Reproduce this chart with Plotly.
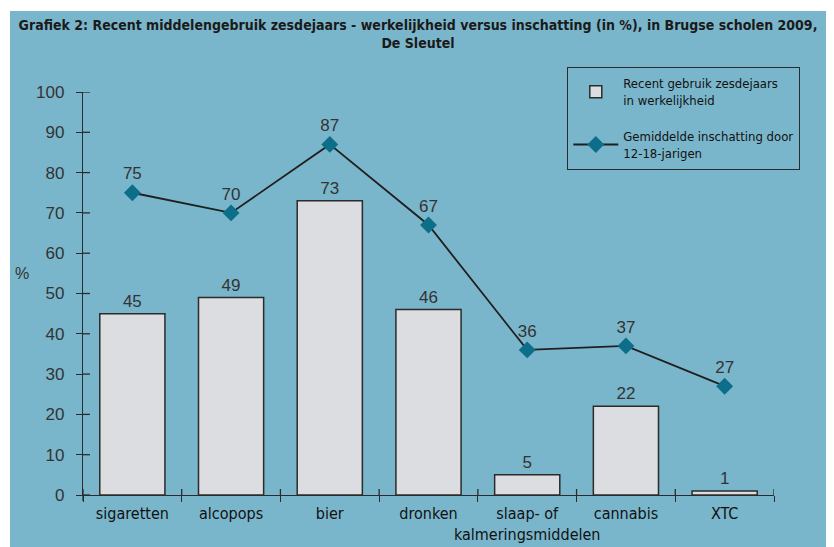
import plotly.graph_objects as go

categories = ["sigaretten", "alcopops", "bier", "dronken", "slaap- of<br>kalmeringsmiddelen", "cannabis", "XTC"]
actual_use = [45, 49, 73, 46, 5, 22, 1]
estimated = [75, 70, 87, 67, 36, 37, 27]
y_ticks = [0, 10, 20, 30, 40, 50, 60, 70, 80, 90, 100]

BG = "#7AB6CB"
DARK = "#2b2b2b"
NARROW = "DejaVu Sans Condensed, Liberation Sans Narrow, sans-serif"
REG = "Liberation Sans, Arial, sans-serif"

# page has an 8px body margin; figure sized to fill the rest of the window
W, H = 826, 539
ML, MR, MT, MB = 75, 60, 84, 52
pw = W - ML - MR
ph = H - MT - MB

fig = go.Figure()
fig.add_trace(go.Bar(
    x=categories, y=actual_use,
    name="Recent gebruik zesdejaars<br>in werkelijkheid", legendgroup="a",
    marker=dict(color="#DCDDE0", line=dict(color=DARK, width=1.5)),
    text=[str(v) for v in actual_use], textposition="outside",
    textfont=dict(family=REG, size=17, color="#333333"),
    cliponaxis=False,
))
fig.add_trace(go.Scatter(
    x=categories, y=estimated, mode="lines+markers+text",
    name="Gemiddelde inschatting door<br>12-18-jarigen", legendgroup="b",
    line=dict(color="#1f1f1f", width=1.8),
    marker=dict(symbol="diamond", size=13, color="#0C6E88"),
    text=[str(v) for v in estimated], textposition="top center",
    textfont=dict(family=REG, size=17, color="#333333"),
    cliponaxis=False,
))

shapes = []
shapes.append(dict(type="rect", xref="paper", yref="paper", layer="below",
                   x0=(2 - ML) / pw, x1=(W - ML + 5) / pw,
                   y0=-(MB + 5) / ph, y1=1 + (MT - 3) / ph,
                   fillcolor=BG, line=dict(width=0)))
for t in y_ticks:
    shapes.append(dict(type="line", xref="x domain", yref="y",
                       x0=0, x1=7 / pw, y0=t, y1=t,
                       line=dict(color=DARK, width=1.3)))
for i in range(len(categories) + 1):
    shapes.append(dict(type="line", xref="x", yref="y domain",
                       x0=i - 0.5, x1=i - 0.5, y0=0, y1=6 / ph,
                       line=dict(color=DARK, width=1.3)))
shapes.append(dict(type="line", xref="x domain", yref="y domain",
                   x0=0, x1=0, y0=-6 / ph, y1=0,
                   line=dict(color=DARK, width=1.3)))

fig.update_layout(
    width=W, height=H,
    margin=dict(l=ML, r=MR, t=MT, b=MB, autoexpand=False),
    paper_bgcolor="white", plot_bgcolor="rgba(0,0,0,0)",
    bargap=0.34,
    showlegend=True,
    title=dict(
        text="Grafiek 2: Recent middelengebruik zesdejaars - werkelijkheid versus inschatting (in %), in Brugse scholen 2009,<br>De Sleutel",
        x=410 / W, xref="container", xanchor="center", y=1 - 22 / H, yanchor="top",
        font=dict(family=NARROW, size=14, color="#1a1a1a", weight="bold"),
    ),
    legend=dict(
        x=(559 - ML) / pw, xanchor="left", y=1 + (MT - 59) / ph, yanchor="top",
        bgcolor="rgba(0,0,0,0)", bordercolor=DARK, borderwidth=1.3,
        font=dict(family=NARROW, size=13, color="#111111"),
        traceorder="grouped", tracegroupgap=16, itemwidth=45,
    ),
    shapes=shapes,
    annotations=[dict(text="%", xref="paper", yref="paper",
                      x=(14 - ML) / pw, y=(H - MB - 265) / ph,
                      xanchor="center", yanchor="middle", showarrow=False,
                      font=dict(family=REG, size=16, color="#333333"))],
)
fig.update_xaxes(
    type="category", showline=True, linecolor=DARK, linewidth=1.3,
    ticks="outside", tickson="boundaries", ticklen=6, tickcolor=DARK, tickwidth=1.3,
    tickfont=dict(family=NARROW, size=16, color="#111111"),
    showgrid=False, zeroline=False, range=[-0.5, len(categories) - 0.5],
    ticklabelstandoff=4, tickangle=0, automargin=False,
)
fig.update_yaxes(
    range=[0, 100], tickvals=y_ticks, showline=True, linecolor=DARK, linewidth=1.3,
    ticks="outside", ticklen=6, tickcolor=DARK, tickwidth=1.3,
    tickfont=dict(family=REG, size=17, color="#333333"),
    showgrid=False, zeroline=False, ticklabelstandoff=8, automargin=False,
)

fig.write_html("out.html")
